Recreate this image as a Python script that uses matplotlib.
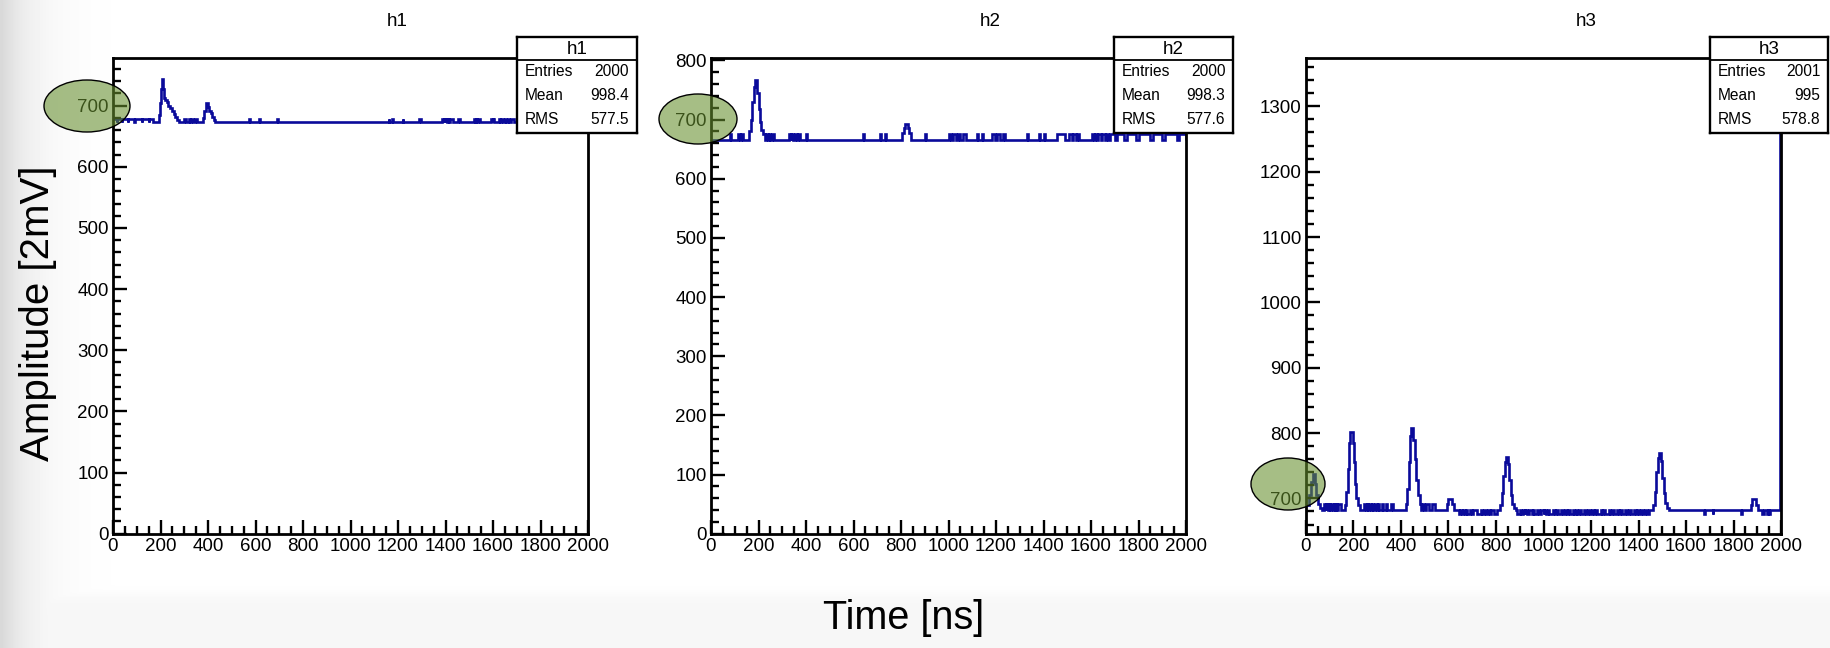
import numpy as np
import matplotlib
matplotlib.use("Agg")
import matplotlib.pyplot as plt
from matplotlib.patches import Ellipse
from matplotlib.transforms import IdentityTransform
from matplotlib.ticker import MultipleLocator

plt.rcParams['font.family'] = ['Liberation Sans', 'DejaVu Sans']

# ---------------- data ----------------
titles = ["h1", "h2", "h3"]
stat_entries = ["2000", "2000", "2001"]
stat_mean = ["998.4", "998.3", "995"]
stat_rms = ["577.5", "577.6", "578.8"]
x_range = (0, 2000)
y_ranges = [(0, 778), (0, 804), (646, 1374)]
x_ticks = [0, 200, 400, 600, 800, 1000, 1200, 1400, 1600, 1800, 2000]

h1_base = 673
h1_segments = [
    (0, 15, 678), (16, 38, 678), (40, 62, 678), (64, 90, 678), (92, 120, 678),
    (122, 150, 678), (152, 168, 678),
    (192, 197, 685), (197, 201, 705), (201, 205, 728), (205, 211, 744), (211, 215, 728),
    (215, 219, 712), (219, 226, 709), (226, 233, 706), (233, 240, 700), (240, 247, 697),
    (247, 255, 692), (255, 262, 687), (262, 270, 681), (270, 276, 677),
    (300, 308, 678), (318, 324, 678), (330, 338, 678), (345, 352, 678),
    (378, 384, 680), (384, 390, 692), (390, 398, 704), (398, 404, 698), (404, 412, 691),
    (412, 418, 688), (418, 424, 681), (424, 430, 677),
    (571, 575, 678), (615, 619, 678), (690, 694, 678),
    (1160, 1164, 678), (1176, 1180, 678), (1219, 1223, 678), (1288, 1296, 678),
    (1386, 1392, 678), (1395, 1400, 678), (1404, 1408, 678), (1412, 1416, 678),
    (1420, 1430, 678), (1452, 1460, 678), (1520, 1526, 678), (1530, 1534, 678),
    (1538, 1546, 678), (1592, 1598, 678), (1602, 1606, 678), (1625, 1630, 678),
    (1634, 1640, 678), (1652, 1656, 678), (1662, 1668, 678), (1675, 1690, 678),
    (1700, 1720, 678), (1735, 1760, 678), (1775, 1800, 678), (1820, 1860, 678),
    (1880, 1900, 678), (1920, 1960, 678), (1975, 1995, 678),
]

h2_base = 666
h2_segments = [
    (78, 84, 676), (113, 120, 676), (128, 134, 676),
    (162, 168, 680), (168, 174, 700), (174, 180, 730), (180, 186, 755), (186, 195, 766),
    (195, 200, 745), (200, 206, 718), (206, 212, 695), (212, 218, 682), (218, 228, 676),
    (232, 240, 676), (244, 250, 676), (256, 264, 676), (328, 336, 676), (338, 345, 676),
    (352, 360, 676), (366, 373, 676), (398, 403, 676), (639, 644, 676), (712, 716, 676),
    (733, 738, 676),
    (805, 811, 678), (811, 817, 686), (817, 829, 692), (829, 834, 686), (834, 840, 678),
    (900, 905, 676), (1000, 1012, 676), (1020, 1030, 676), (1040, 1050, 676),
    (1060, 1072, 676), (1120, 1125, 676), (1140, 1145, 676), (1185, 1195, 676),
    (1205, 1215, 676), (1230, 1237, 676), (1330, 1334, 676), (1380, 1386, 676),
    (1400, 1406, 676), (1455, 1492, 676), (1508, 1520, 676), (1525, 1535, 676),
    (1540, 1548, 676), (1605, 1612, 676), (1616, 1625, 676), (1630, 1640, 676),
    (1645, 1660, 676), (1665, 1672, 676), (1678, 1700, 676), (1710, 1740, 676),
    (1750, 1790, 676), (1800, 1850, 676), (1860, 1900, 676), (1910, 1960, 676),
    (1970, 1998, 676),
]

h3_base = 682
h3_segments = [
    (0, 12, 690), (12, 20, 705), (20, 28, 725), (28, 38, 737), (38, 44, 722),
    (44, 50, 705), (50, 58, 692), (58, 66, 685),
    (77, 84, 692), (86, 92, 692), (95, 100, 692), (104, 112, 692), (116, 122, 692),
    (126, 132, 692), (136, 148, 692),
    (163, 170, 690), (170, 176, 710), (176, 182, 745), (182, 187, 785), (187, 196, 802),
    (196, 201, 785), (201, 206, 755), (206, 212, 722), (212, 218, 700), (218, 226, 690),
    (245, 252, 692), (256, 262, 692), (266, 275, 692), (280, 284, 692), (290, 298, 692),
    (302, 308, 692), (320, 326, 692), (336, 342, 692), (360, 366, 692),
    (420, 426, 692), (426, 432, 715), (432, 438, 755), (438, 443, 795), (443, 452, 807),
    (452, 458, 790), (458, 464, 760), (464, 470, 728), (470, 478, 705), (478, 486, 692),
    (490, 495, 692), (505, 520, 692), (530, 545, 692),
    (592, 598, 692), (598, 614, 699), (614, 622, 692),
    (645, 650, 676), (655, 662, 676), (668, 672, 676), (680, 690, 676), (700, 705, 676),
    (720, 735, 676), (742, 748, 676), (760, 768, 676), (775, 780, 676), (790, 805, 676),
    (818, 824, 690), (824, 830, 708), (830, 836, 735), (836, 841, 755), (841, 850, 764),
    (850, 856, 752), (856, 862, 728), (862, 868, 705), (868, 876, 692), (876, 884, 686),
    (890, 900, 676), (905, 915, 676), (920, 924, 676), (930, 940, 676), (950, 956, 676),
    (962, 972, 676), (980, 990, 676), (1000, 1004, 676), (1010, 1018, 676),
    (1025, 1040, 676), (1048, 1052, 676), (1060, 1072, 676), (1080, 1090, 676),
    (1098, 1104, 676), (1110, 1124, 676), (1130, 1136, 676), (1142, 1150, 676),
    (1158, 1170, 676), (1180, 1188, 676), (1195, 1205, 676), (1212, 1218, 676),
    (1225, 1240, 676), (1248, 1252, 676), (1260, 1275, 676), (1282, 1290, 676),
    (1298, 1310, 676), (1318, 1322, 676), (1330, 1345, 676), (1352, 1360, 676),
    (1368, 1380, 676), (1388, 1392, 676), (1400, 1412, 676), (1420, 1426, 676),
    (1435, 1445, 676),
    (1462, 1468, 690), (1468, 1474, 710), (1474, 1480, 740), (1480, 1485, 762),
    (1485, 1494, 770), (1494, 1500, 758), (1500, 1506, 732), (1506, 1512, 708),
    (1512, 1520, 693), (1520, 1528, 686),
    (1675, 1678, 676), (1712, 1715, 676), (1833, 1836, 676),
    (1872, 1878, 690), (1878, 1896, 699), (1896, 1902, 690),
    (1922, 1928, 676), (1940, 1946, 676), (1950, 1954, 676),
    (1996, 2000, 1341),
]

bases = [h1_base, h2_base, h3_base]
segments = [h1_segments, h2_segments, h3_segments]


def build_stairs(base, segs, xmax=2000):
    edges = [0]
    vals = []
    cur = 0
    for x0, x1, v in segs:
        if x0 > cur:
            vals.append(base)
            edges.append(x0)
        vals.append(v)
        edges.append(x1)
        cur = x1
    if cur < xmax:
        vals.append(base)
        edges.append(xmax)
    return np.array(edges, float), np.array(vals, float)


# ---------------- figure ----------------
W, H = 1831, 648
fig = plt.figure(figsize=(W / 100, H / 100), dpi=100)
fig.patch.set_facecolor("white")

# slide background: soft grey strip on the left, pale band at the bottom
bg = fig.add_axes([0, 0, 1, 1], zorder=-10)
gx = np.linspace(0, W, 400)
gy = np.linspace(0, H, 200)
GX, GY = np.meshgrid(gx, gy)
img = 1.0 - 0.15 * np.exp(-GX / 30.0)
band = 1.0 - 0.035 / (1.0 + np.exp((GY - 52) / 4.0))
img = np.minimum(img, band)
bg.imshow(img, cmap="gray", vmin=0, vmax=1, extent=(0, W, 0, H),
          aspect="auto", origin="lower", interpolation="bilinear")
bg.set_axis_off()

px = lambda x: x / W
py = lambda y: 1 - y / H

ax_lefts = [113, 711, 1306]
ax_width = 475
ax_top, ax_bottom = 58, 533.7

line_color = "#0a0a9a"
for i in range(3):
    ax = fig.add_axes([px(ax_lefts[i]), py(ax_bottom), ax_width / W, (ax_bottom - ax_top) / H])
    edges, vals = build_stairs(bases[i], segments[i])
    ax.stairs(vals, edges, baseline=None, color=line_color, linewidth=1.9)
    ax.set_xlim(*x_range)
    ax.set_ylim(*y_ranges[i])
    ax.set_xticks(x_ticks)
    ax.xaxis.set_minor_locator(MultipleLocator(50))
    ax.yaxis.set_major_locator(MultipleLocator(100))
    ax.yaxis.set_minor_locator(MultipleLocator(20))
    ax.tick_params(which="both", direction="in", top=False, right=False,
                   width=1.7, labelsize=13.5, color="black")
    ax.tick_params(which="major", length=10, pad=3)
    ax.tick_params(which="minor", length=5.5)
    for sp in ax.spines.values():
        sp.set_linewidth(2.0)
    ax.set_facecolor("white")

    # title above panel
    tx = [397, 990, 1586][i]
    fig.text(px(tx), py(21), titles[i], ha="center", va="center", fontsize=13.5)

    # stats box
    bl, br = [(517, 637), (1114, 1233), (1710, 1828)][i]
    bt, bb = 37, 133
    sep = 60
    sb = fig.add_axes([px(bl), py(bb), (br - bl) / W, (bb - bt) / H], zorder=5)
    sb.set_xlim(0, 1)
    sb.set_ylim(bb, bt)
    sb.set_xticks([])
    sb.set_yticks([])
    for sp in sb.spines.values():
        sp.set_linewidth(1.7)
    sb.axhline(sep, color="black", linewidth=1.3)
    sb.text(0.5, (bt + sep) / 2 + 0.5, titles[i], ha="center", va="center", fontsize=13.5)
    rows = [("Entries", stat_entries[i]), ("Mean", stat_mean[i]), ("RMS", stat_rms[i])]
    for r, (lab, val) in enumerate(rows):
        yy = 72 + 24 * r
        sb.text(0.065, yy, lab, ha="left", va="center", fontsize=11.2)
        sb.text(0.935, yy, val, ha="right", va="center", fontsize=11.2)

# highlight ellipses around the 700 labels
for cx, cy, ew, eh in [(87, 106, 86, 52), (698, 119, 78, 50), (1288, 484, 74, 52)]:
    e = Ellipse((cx, H - cy), ew, eh, transform=IdentityTransform(),
                facecolor=(0.40, 0.56, 0.18, 0.58), edgecolor="black", linewidth=1.0,
                zorder=20)
    fig.add_artist(e)

fig.text(px(38), py(313), "Amplitude [2mV]", rotation=90, ha="center", va="center",
         fontsize=29)
fig.text(px(904), py(618), "Time [ns]", ha="center", va="center", fontsize=28.5)

fig.savefig("out.png", dpi=100)
